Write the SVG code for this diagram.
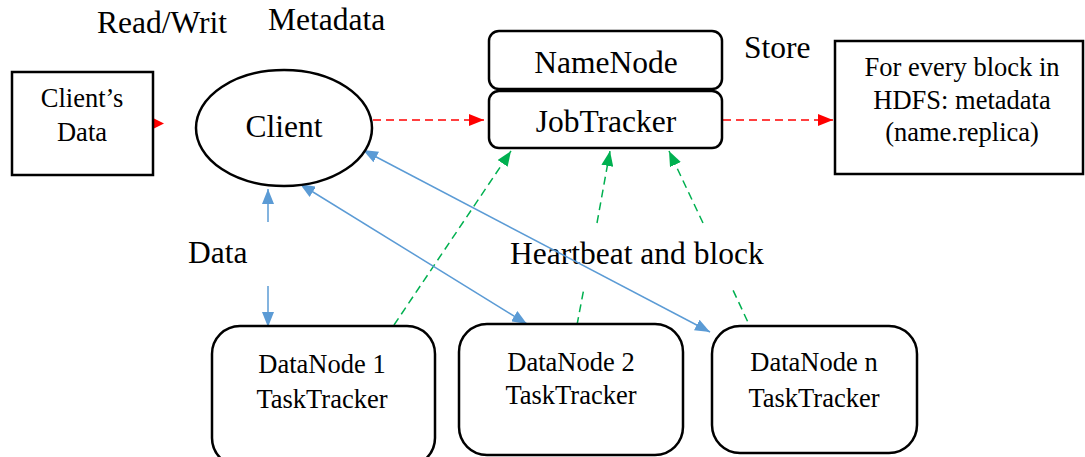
<svg xmlns="http://www.w3.org/2000/svg" width="1085" height="457" viewBox="0 0 1085 457" font-family="'Liberation Serif', serif">
  <style>
    .box { fill: #ffffff; stroke: #000000; stroke-width: 2.5; }
    text { font-family: 'Liberation Serif', serif; fill: #000000; }
    .big { font-size: 31.5px; }
    .mid { font-size: 26.5px; }
    .red { stroke: #ff0000; stroke-width: 1.5; stroke-dasharray: 8 5; fill: none; }
    .green { stroke: #00b050; stroke-width: 1.5; stroke-dasharray: 8 5; fill: none; }
    .blue { stroke: #5b9bd5; stroke-width: 1.5; fill: none; }
  </style>
  <defs>
    <marker id="ahRed" markerUnits="userSpaceOnUse" markerWidth="15" markerHeight="12" refX="15" refY="6" orient="auto-start-reverse">
      <path d="M0,0 L15,6 L0,12 z" fill="#ff0000"/>
    </marker>
    <marker id="ahGreen" markerUnits="userSpaceOnUse" markerWidth="15" markerHeight="12" refX="15" refY="6" orient="auto-start-reverse">
      <path d="M0,0 L15,6 L0,12 z" fill="#00b050"/>
    </marker>
    <marker id="ahBlue" markerUnits="userSpaceOnUse" markerWidth="15" markerHeight="12" refX="15" refY="6" orient="auto-start-reverse">
      <path d="M0,0 L15,6 L0,12 z" fill="#5b9bd5"/>
    </marker>
  </defs>

  <rect width="1085" height="457" fill="#ffffff"/>

  <!-- free labels -->
  <text class="big" x="97" y="33">Read/Writ</text>
  <text class="big" x="268" y="30">Metadata</text>
  <text class="big" x="744" y="58">Store</text>
  <text class="big" x="188" y="263">Data</text>
  <text class="big" x="510" y="264">Heartbeat and block</text>

  <!-- connectors -->
  <g id="connectors">
    <polygon points="153,118 164,123.5 153,129" fill="#ff0000"/>
    <line class="red" x1="373" y1="120" x2="484" y2="120" marker-end="url(#ahRed)"/>
    <line class="red" x1="723" y1="120" x2="833" y2="120" marker-end="url(#ahRed)"/>

    <line class="green" x1="394" y1="325" x2="511" y2="151" marker-end="url(#ahGreen)"/>
    <line class="green" x1="577" y1="325" x2="584" y2="288"/>
    <line class="green" x1="597" y1="223" x2="610" y2="151" marker-end="url(#ahGreen)"/>
    <line class="green" x1="753" y1="333" x2="732" y2="288"/>
    <line class="green" x1="703" y1="223" x2="669" y2="151" marker-end="url(#ahGreen)"/>

    <line class="blue" x1="268" y1="222" x2="268" y2="189" marker-end="url(#ahBlue)"/>
    <line class="blue" x1="268" y1="286" x2="268" y2="327" marker-end="url(#ahBlue)"/>
    <line class="blue" x1="300" y1="184" x2="527" y2="324" marker-start="url(#ahBlue)" marker-end="url(#ahBlue)"/>
    <line class="blue" x1="363" y1="150" x2="710" y2="332" marker-start="url(#ahBlue)" marker-end="url(#ahBlue)"/>
  </g>

  <!-- nodes -->
  <g id="clients-data">
    <rect class="box" x="12" y="72" width="141" height="103"/>
    <text class="mid" x="82" y="107" text-anchor="middle">Client’s</text>
    <text class="mid" x="82" y="141" text-anchor="middle">Data</text>
  </g>

  <g id="client">
    <ellipse class="box" cx="284" cy="128" rx="88" ry="58"/>
    <text class="big" x="284" y="137" text-anchor="middle">Client</text>
  </g>

  <g id="namenode">
    <rect class="box" x="489" y="31" width="233" height="58" rx="10"/>
    <text class="big" x="606" y="73" text-anchor="middle">NameNode</text>
  </g>

  <g id="jobtracker">
    <rect class="box" x="489" y="91" width="233" height="57" rx="10"/>
    <text class="big" x="606" y="132" text-anchor="middle">JobTracker</text>
  </g>

  <g id="metadata-store">
    <rect class="box" x="835" y="41" width="248" height="133"/>
    <text class="mid" x="962" y="76" text-anchor="middle">For every block in</text>
    <text class="mid" x="962" y="109" text-anchor="middle">HDFS: metadata</text>
    <text class="mid" x="962" y="141" text-anchor="middle">(name.replica)</text>
  </g>

  <g id="datanode-1">
    <rect class="box" x="212" y="326" width="223" height="140" rx="28"/>
    <text class="mid" x="322" y="373" text-anchor="middle">DataNode 1</text>
    <text class="mid" x="322" y="408" text-anchor="middle">TaskTracker</text>
  </g>

  <g id="datanode-2">
    <rect class="box" x="459" y="324" width="224" height="131" rx="28"/>
    <text class="mid" x="571" y="371" text-anchor="middle">DataNode 2</text>
    <text class="mid" x="571" y="404" text-anchor="middle">TaskTracker</text>
  </g>

  <g id="datanode-n">
    <rect class="box" x="712" y="326" width="205" height="127" rx="28"/>
    <text class="mid" x="814" y="371" text-anchor="middle">DataNode n</text>
    <text class="mid" x="814" y="407" text-anchor="middle">TaskTracker</text>
  </g>
</svg>
